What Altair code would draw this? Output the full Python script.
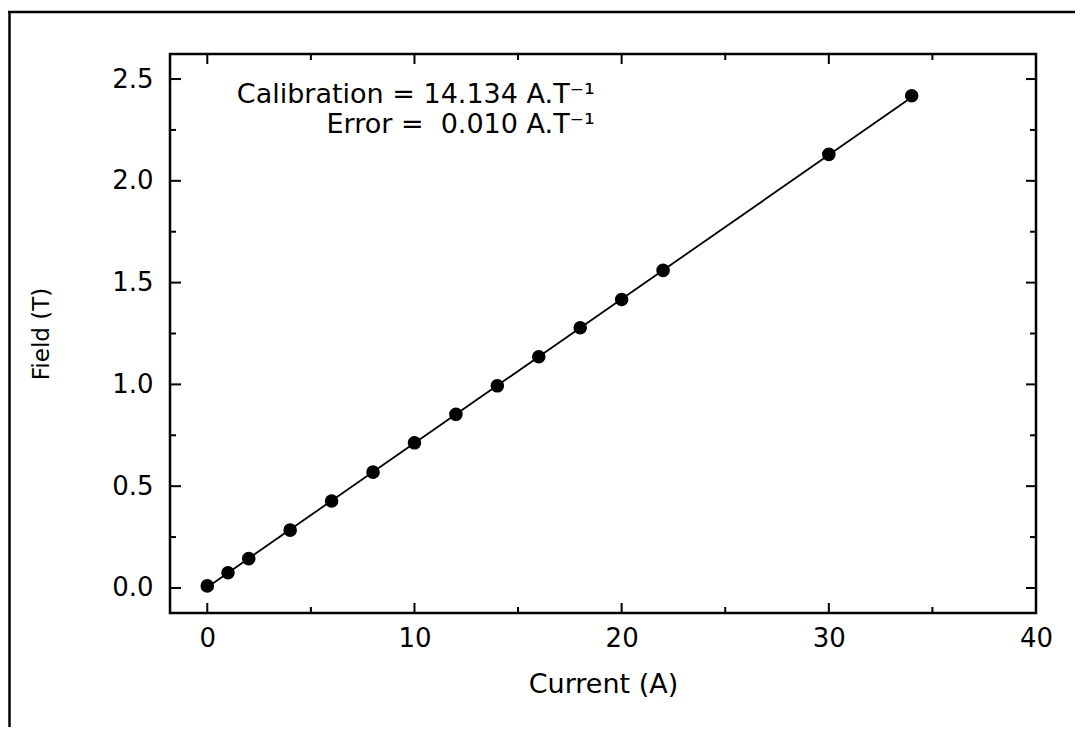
import altair as alt
import pandas as pd

# ---- data ----
current = [0, 1, 2, 4, 6, 8, 10, 12, 14, 16, 18, 20, 22, 30, 34]
field = [0.010, 0.075, 0.144, 0.284, 0.427, 0.569, 0.713, 0.853, 0.993,
         1.136, 1.278, 1.417, 1.560, 2.130, 2.418]
fit_current = [0, 34]
fit_field = [0.004, 2.410]
x_major = [0, 10, 20, 30, 40]
x_minor = [5, 15, 25, 35]
y_major = [0.0, 0.5, 1.0, 1.5, 2.0, 2.5]
y_minor = [0.25, 0.75, 1.25, 1.75, 2.25]
note_lines = ["Calibration = 14.134 A.T\u207b\u00b9", "Error =\u00a0\u00a00.010 A.T\u207b\u00b9"]
note_x = [18.7, 18.7]
note_y = [2.384, 2.235]

W, H = 866, 559
FONT = "DejaVu Sans"
PAD = {"left": 162, "top": 46, "right": 39, "bottom": 114}

xs = alt.Scale(domain=[-1.8, 40], nice=False, zero=False)
ys = alt.Scale(domain=[-0.123, 2.623], nice=False, zero=False)

pts = pd.DataFrame({"Current": current, "Field": field})
fit = pd.DataFrame({"Current": fit_current, "Field": fit_field})
note = pd.DataFrame({"Current": note_x, "Field": note_y, "t": note_lines})
xmaj = pd.DataFrame({"Current": x_major})
xmin = pd.DataFrame({"Current": x_minor})
ymaj = pd.DataFrame({"Field": y_major})
ymin = pd.DataFrame({"Field": y_minor})
one = pd.DataFrame({"a": [0]})

x_axis = alt.Axis(values=x_major, ticks=False, tickSize=0, domain=False, grid=False,
                  labelFlush=False, labelFontSize=26, labelFont=FONT, labelColor="black",
                  labelPadding=12, title="Current (A)", titleFont=FONT, titleFontSize=27,
                  titleFontWeight="normal", titleColor="black", titleBaseline="top",
                  titleY=58)
y_axis = alt.Axis(values=y_major, format=".1f", ticks=False, tickSize=0, domain=False,
                  grid=False, labelFlush=False, labelFontSize=26, labelFont=FONT,
                  labelColor="black", labelPadding=17, title="Field (T)", titleFont=FONT,
                  titleFontSize=23, titleFontWeight="normal", titleColor="black",
                  titleAngle=270, titleAlign="center", titleBaseline="middle",
                  titleX=-129, titleY=H / 2)

X = alt.X("Current:Q", scale=xs, axis=x_axis)
Y = alt.Y("Field:Q", scale=ys, axis=y_axis)

line = alt.Chart(fit).mark_line(color="black", strokeWidth=1.8).encode(x=X, y=Y)
points = alt.Chart(pts).mark_circle(size=185, color="black", opacity=1).encode(x=X, y=Y)
text = alt.Chart(note).mark_text(align="right", baseline="alphabetic", font=FONT,
                                 fontSize=27, color="black").encode(x=X, y=Y, text="t:N")

TW = 2


def xticks(df, y0, y1):
    return alt.Chart(df).mark_rule(color="black", strokeWidth=TW).encode(
        x=X, y=alt.value(y0), y2=alt.value(y1))


def yticks(df, x0, x1):
    return alt.Chart(df).mark_rule(color="black", strokeWidth=TW).encode(
        y=Y, x=alt.value(x0), x2=alt.value(x1))


ticks = [
    xticks(xmaj, H, H - 10), xticks(xmin, H, H - 6),
    xticks(xmaj, 0, 10), xticks(xmin, 0, 6),
    yticks(ymaj, 0, 11), yticks(ymin, 0, 6),
    yticks(ymaj, W, W - 10), yticks(ymin, W, W - 6),
]

frame_left = alt.Chart(one).mark_rule(color="black", strokeWidth=2.5).encode(
    x=alt.value(-PAD["left"] + 1.5), y=alt.value(-42), y2=alt.value(H + PAD["bottom"]))
frame_top = alt.Chart(one).mark_rule(color="black", strokeWidth=2.5).encode(
    y=alt.value(-42), x=alt.value(-PAD["left"]), x2=alt.value(W + PAD["right"]))

chart = alt.layer(
    line, points, text, *ticks, frame_left, frame_top
).properties(
    width=W, height=H, padding=PAD,
    autosize=alt.AutoSizeParams(type="none"),
    background="white",
).configure_view(stroke="black", strokeWidth=2.5)

chart.save("out.html", embed_options={"renderer": "svg", "actions": False})
